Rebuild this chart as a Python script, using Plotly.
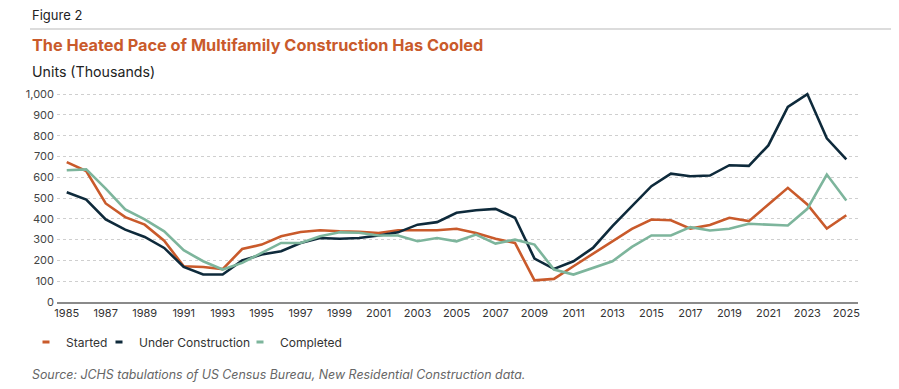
import plotly.graph_objects as go

years = list(range(1985, 2026))
started = [673, 630, 474, 408, 372, 295, 172, 168, 158, 255, 276, 316, 337, 345, 340, 338, 332, 345, 345, 345,
           352, 332, 304, 284, 104, 111, 172, 232, 295, 352, 397, 393, 353, 370, 405, 389, 469, 549, 469, 353, 417]
under = [528, 493, 397, 348, 313, 260, 169, 132, 132, 200, 228, 244, 284, 308, 304, 308, 320, 335, 372, 384,
         429, 441, 448, 405, 209, 159, 196, 260, 365, 460, 557, 617, 605, 608, 658, 655, 753, 938, 1000, 787, 686]
completed = [634, 638, 545, 445, 397, 340, 249, 196, 156, 188, 236, 284, 284, 316, 335, 333, 320, 320, 292, 308,
             292, 324, 281, 300, 276, 156, 132, 164, 196, 265, 320, 320, 360, 344, 352, 376, 373, 368, 448, 613, 488]

series_names = ["Started", "Under Construction", "Completed"]
series_colors = ["#C95A2B", "#0E2A3B", "#7DB59C"]
x_ticks = list(range(1985, 2026, 2))
y_ticks = list(range(0, 1001, 100))
y_ticktext = [f"{v:,}" for v in y_ticks]

# page has an 8px body margin; coordinates below are in figure pixels
OFF = 8
W, H = 899, 389
L, R, T, B = 57 - OFF, 899 - (858 - OFF), 92 - OFF, 389 - (302 - OFF)
PW, PH = W - L - R, H - T - B

def px(x):
    return (x - OFF - L) / PW

def py(y):
    return (H - B - (y - OFF)) / PH

FONT = "Inter"

legend_ids = ["legend", "legend2", "legend3"]
legend_text_x = [66, 139, 280]

fig = go.Figure()
for name, vals, col, lid in zip(series_names, [started, under, completed], series_colors, legend_ids):
    fig.add_trace(go.Scatter(x=years, y=vals, mode="lines", name=name,
                             line=dict(color=col, width=2.6), showlegend=False))
    fig.add_trace(go.Scatter(x=[None], y=[None], mode="markers", name=name, legend=lid,
                             marker=dict(symbol="line-ew-open", size=5, color=col,
                                         line=dict(color=col, width=3)),
                             showlegend=True))

legend_common = dict(orientation="h", yanchor="middle", xanchor="left",
                     font=dict(size=12, color="#333"), itemwidth=30,
                     bgcolor="rgba(0,0,0,0)")
legends = {}
for lid, tx in zip(legend_ids, legend_text_x):
    legends[lid] = dict(x=px(tx - 40), y=py(342), **legend_common)

fig.update_layout(
    width=W, height=H,
    margin=dict(l=L, r=R, t=T, b=B),
    paper_bgcolor="white", plot_bgcolor="white",
    font=dict(family=FONT, color="#333", size=11),
    xaxis=dict(range=[1984.5, 2025.6], tickvals=x_ticks, showgrid=False, zeroline=False,
               showline=True, linecolor="#8a8a8a", linewidth=1.5, ticks="",
               tickfont=dict(size=11, color="#333"), fixedrange=True),
    yaxis=dict(range=[0, 1010], tickvals=y_ticks, ticktext=y_ticktext, showgrid=True,
               gridcolor="#cfcfcf", griddash="3px,3px", gridwidth=1, zeroline=False,
               ticks="", tickfont=dict(size=11, color="#444"), ticklabelstandoff=2),
    showlegend=True,
    **legends,
)

fig.add_shape(type="line", xref="paper", yref="paper", x0=px(30), x1=px(905), y0=py(29), y1=py(29),
              line=dict(color="#dcdcdc", width=2))

anns = [
    dict(text="Figure 2", x=px(30), y=py(15), font=dict(size=13, color="#222")),
    dict(text="<b>The Heated Pace of Multifamily Construction Has Cooled</b>", x=px(30), y=py(45),
         font=dict(size=16.3, color="#C95A2B")),
    dict(text="Units (Thousands)", x=px(30), y=py(72), font=dict(size=14.2, color="#222")),
    dict(text="<i>Source: JCHS tabulations of US Census Bureau, New Residential Construction data.</i>",
         x=px(30), y=py(374), font=dict(size=12.4, color="#666")),
]
for a in anns:
    fig.add_annotation(xref="paper", yref="paper", xanchor="left", yanchor="middle",
                       showarrow=False, **a)

fig.write_html("out.html")
